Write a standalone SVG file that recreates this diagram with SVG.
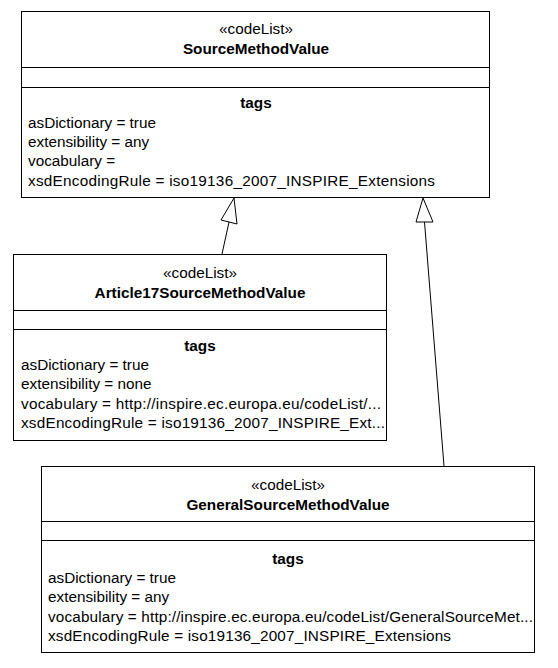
<svg xmlns="http://www.w3.org/2000/svg" width="558" height="668" viewBox="0 0 558 668">
<style>
.box{fill:#fff;stroke:#000;stroke-width:1}
.ln{stroke:#000;stroke-width:1}
text{font-family:"Liberation Sans",Arial,sans-serif;font-size:15.3px;fill:#000}
.c{text-anchor:middle}
.b{font-weight:bold}
.conn{fill:none;stroke:#000;stroke-width:1}
.head{fill:#fff;stroke:#000;stroke-width:1}
</style>
<rect width="558" height="668" fill="#fff"/>
<g id="SourceMethodValue">
<rect class="box" x="21.5" y="11.5" width="468" height="186"/>
<line class="ln" x1="21.5" y1="67.5" x2="489.5" y2="67.5"/>
<line class="ln" x1="21.5" y1="87.5" x2="489.5" y2="87.5"/>
<text class="c" x="256" y="34">«codeList»</text>
<text class="c b" x="256" y="54">SourceMethodValue</text>
<text class="c b" x="256" y="108">tags</text>
<text x="28" y="128">asDictionary = true</text>
<text x="28" y="147">extensibility = any</text>
<text x="28" y="166">vocabulary = </text>
<text x="28" y="186" textLength="407" lengthAdjust="spacing">xsdEncodingRule = iso19136_2007_INSPIRE_Extensions</text>
</g>
<g id="Article17SourceMethodValue">
<rect class="box" x="13.5" y="254.5" width="373" height="186"/>
<line class="ln" x1="13.5" y1="310.5" x2="386.5" y2="310.5"/>
<line class="ln" x1="13.5" y1="329.5" x2="386.5" y2="329.5"/>
<text class="c" x="200" y="278">«codeList»</text>
<text class="c b" x="200" y="298">Article17SourceMethodValue</text>
<text class="c b" x="200" y="351">tags</text>
<text x="21" y="370">asDictionary = true</text>
<text x="21" y="389">extensibility = none</text>
<text x="21" y="409" textLength="360" lengthAdjust="spacing">vocabulary = http://inspire.ec.europa.eu/codeList/...</text>
<text x="21" y="428" textLength="364" lengthAdjust="spacing">xsdEncodingRule = iso19136_2007_INSPIRE_Ext...</text>
</g>
<g id="GeneralSourceMethodValue">
<rect class="box" x="41.5" y="466.5" width="493" height="186"/>
<line class="ln" x1="41.5" y1="521.5" x2="534.5" y2="521.5"/>
<line class="ln" x1="41.5" y1="540.5" x2="534.5" y2="540.5"/>
<text class="c" x="288" y="490">«codeList»</text>
<text class="c b" x="288" y="510">GeneralSourceMethodValue</text>
<text class="c b" x="288" y="564">tags</text>
<text x="48" y="583">asDictionary = true</text>
<text x="48" y="602">extensibility = any</text>
<text x="48" y="622" textLength="485" lengthAdjust="spacing">vocabulary = http://inspire.ec.europa.eu/codeList/GeneralSourceMet...</text>
<text x="48" y="641" textLength="403" lengthAdjust="spacing">xsdEncodingRule = iso19136_2007_INSPIRE_Extensions</text>
</g>
<g id="connectors">
<line class="conn" x1="222" y1="254" x2="229" y2="222"/>
<polygon class="head" points="234,198 221,220 237,224"/>
<line class="conn" x1="444" y1="466" x2="424.5" y2="222"/>
<polygon class="head" points="423,198 416,222 433,222"/>
</g>
</svg>
